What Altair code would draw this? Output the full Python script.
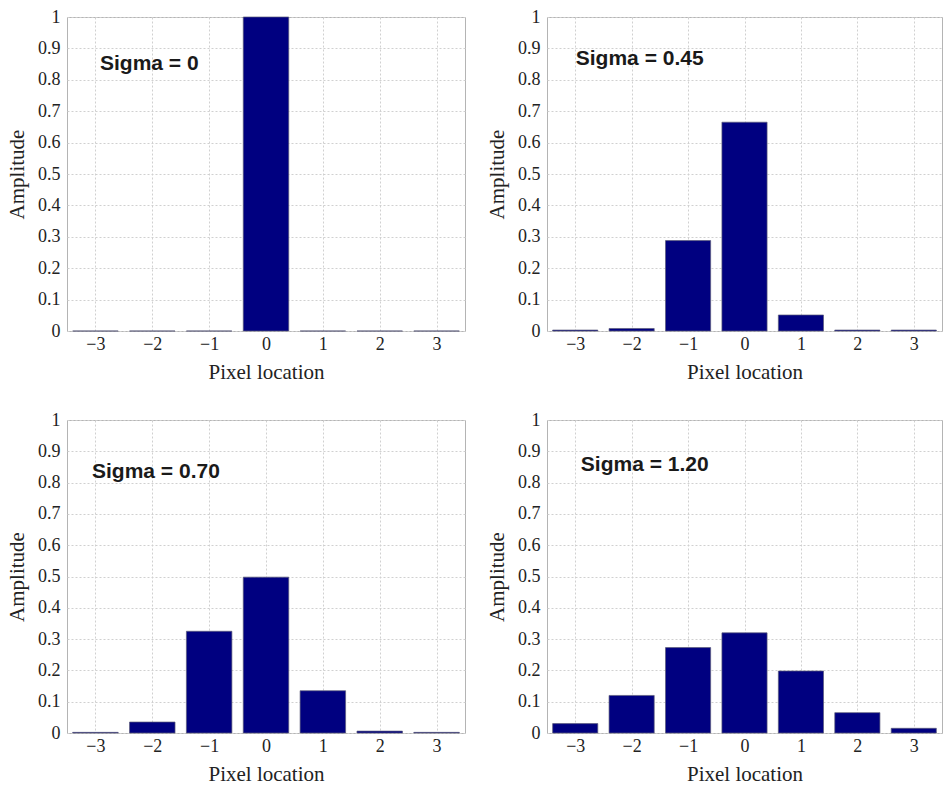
import altair as alt
import pandas as pd

# Discrete Gaussian kernels sampled at integer pixel offsets
pixel_location = [-3, -2, -1, 0, 1, 2, 3]
amp_sigma_000 = [0.0, 0.0, 0.0, 1.0, 0.0, 0.0, 0.0]
amp_sigma_045 = [0.003, 0.008, 0.288, 0.665, 0.051, 0.003, 0.003]
amp_sigma_070 = [0.002, 0.035, 0.325, 0.498, 0.135, 0.006, 0.002]
amp_sigma_120 = [0.030, 0.120, 0.273, 0.320, 0.198, 0.065, 0.015]
sigma_labels = ["Sigma = 0", "Sigma = 0.45", "Sigma = 0.70", "Sigma = 1.20"]
y_ticks = [0, 0.1, 0.2, 0.3, 0.4, 0.5, 0.6, 0.7, 0.8, 0.9, 1]

BAR_COLOR = "#000080"
SERIF = "Liberation Serif"

x_scale = alt.Scale(domain=[-3.5, 3.5], nice=False, zero=False)
y_scale = alt.Scale(domain=[0, 1], nice=False)
x_axis = alt.Axis(values=pixel_location, format="d", title="Pixel location", labelOverlap=False)
y_axis = alt.Axis(values=y_ticks, format="~g", title="Amplitude", labelOverlap=False)


def panel(values, label, label_x, label_y, width, height):
    df = pd.DataFrame({"loc": pixel_location, "amp": values})
    bars = (
        alt.Chart(df)
        .transform_calculate(x0="datum.loc - 0.4", x1="datum.loc + 0.4")
        .mark_bar(color=BAR_COLOR, stroke="#5a5a78", strokeWidth=0.7)
        .encode(
            x=alt.X("x0:Q", scale=x_scale, axis=x_axis),
            x2="x1:Q",
            y=alt.Y("amp:Q", scale=y_scale, axis=y_axis),
            y2=alt.datum(0),
        )
    )
    note = (
        alt.Chart(pd.DataFrame({"x": [label_x], "y": [label_y], "t": [label]}))
        .mark_text(
            align="left",
            baseline="middle",
            font="Liberation Sans",
            fontWeight="bold",
            fontSize=21,
            color="#1a1a1a",
        )
        .encode(
            x=alt.X("x:Q", scale=x_scale, axis=x_axis),
            y=alt.Y("y:Q", scale=y_scale, axis=y_axis),
            text="t:N",
        )
    )
    return alt.layer(bars, note).properties(width=width, height=height)


p1 = panel(amp_sigma_000, sigma_labels[0], -2.92, 0.85, 398, 314)
p2 = panel(amp_sigma_045, sigma_labels[1], -2.99, 0.866, 395, 314)
p3 = panel(amp_sigma_070, sigma_labels[2], -3.06, 0.834, 398, 313)
p4 = panel(amp_sigma_120, sigma_labels[3], -2.90, 0.857, 395, 313)

chart = (
    alt.vconcat(
        alt.hconcat(p1, p2, spacing=20),
        alt.hconcat(p3, p4, spacing=20),
        spacing=27,
    )
    .properties(padding={"left": 6, "top": 7, "right": 0, "bottom": 0})
    .configure_view(stroke="#b4b4b4", strokeWidth=1)
    .configure_axis(
        labelFont=SERIF,
        labelFontSize=18,
        labelColor="#222222",
        titleFont=SERIF,
        titleFontSize=21,
        titleFontWeight="normal",
        titleColor="#222222",
        grid=True,
        gridColor="#d0d0d0",
        gridDash=[2, 2],
        gridWidth=1,
        domain=False,
        ticks=False,
        labelOverlap=False,
    )
    .configure_axisY(titlePadding=10, labelPadding=7)
    .configure_axisX(titlePadding=8, labelPadding=4)
)

chart.save("out.html", embed_options={"renderer": "svg", "actions": False})
